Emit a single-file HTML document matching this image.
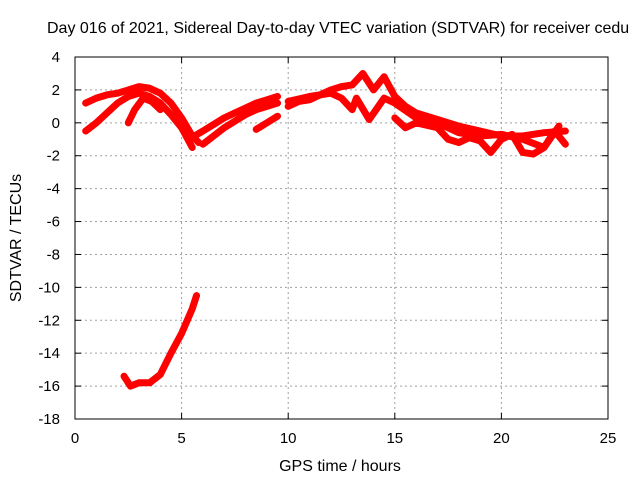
<!DOCTYPE html>
<html><head><meta charset="utf-8"><style>body{margin:0;background:#fff}svg{font-family:"Liberation Sans",sans-serif}</style></head>
<body>
<svg id="chart" width="640" height="480" xmlns="http://www.w3.org/2000/svg">
<text x="47" y="33" font-size="16">Day 016 of 2021, Sidereal Day-to-day VTEC variation (SDTVAR) for receiver cedu</text>
<g id="grid"></g>
<g id="axes"></g>
<g id="series"></g>
<text x="340" y="471" font-size="16" text-anchor="middle">GPS time / hours</text>
<text transform="translate(21,238) rotate(-90)" font-size="16" text-anchor="middle">SDTVAR / TECUs</text>
</svg>
<script>
const xTicks=[0,5,10,15,20,25];
const yTicks=[4,2,0,-2,-4,-6,-8,-10,-12,-14,-16,-18];
const trackA=[[0.5,1.2],[1,1.5],[1.5,1.7],[2,1.8],[2.5,2.0],[3,2.2],[3.5,2.1],[4,1.8],[4.5,1.2],[5,0.3],[5.5,-0.8],[5.8,-1.2]];
const trackB=[[0.5,-0.5],[1,0],[1.5,0.6],[2,1.2],[2.5,1.6],[3,1.8],[3.5,1.6],[4,1.2],[4.5,0.5],[5,-0.3],[5.5,-1.5]];
const trackC=[[2.5,0],[2.8,0.8],[3.2,1.5],[3.6,1.3],[4,0.8]];
const trackD=[[5.6,-0.8],[6,-0.5],[6.5,-0.1],[7,0.3],[7.5,0.6],[8,0.9],[8.5,1.2],[9,1.4],[9.5,1.6]];
const trackE=[[6,-1.3],[6.5,-0.8],[7,-0.3],[7.5,0.1],[8,0.5],[8.5,0.8],[9,1.0],[9.5,1.2]];
const trackF=[[8.5,-0.4],[9,0],[9.5,0.4]];
const trackG=[[10,1.0],[10.5,1.3],[11,1.4],[11.5,1.7],[12,2.0],[12.5,2.2],[13,2.3],[13.5,3.0],[14,2.0],[14.5,2.8],[15,1.6],[15.5,1.0],[16,0.6],[17,0.2],[18,-0.2],[19,-0.5],[20,-0.8],[21,-0.8],[22,-0.6],[23,-0.5]];
const trackH=[[10,1.3],[11,1.6],[12,1.8],[12.5,1.5],[13,0.8],[13.2,1.5],[13.8,0.2],[14.5,1.5],[15,1.2],[16,0.3],[17,0],[18,-0.6],[19,-0.8],[20,-0.7],[21,-1.0],[22,-1.5],[22.7,-0.2]];
const trackI=[[15,0.3],[15.5,-0.3],[16,0],[17,-0.3],[17.5,-1.0],[18,-1.2],[18.5,-0.9],[19,-1.1],[19.5,-1.8],[20,-1.0],[20.5,-0.7],[21,-1.8],[21.5,-1.9],[22,-1.5],[22.5,-0.5],[23,-1.3]];
const trackJ=[[2.3,-15.4],[2.6,-16.0],[3,-15.8],[3.5,-15.8],[4,-15.3],[4.5,-14.0],[5,-12.8],[5.5,-11.3],[5.7,-10.5]];
const tracks=[trackA,trackB,trackC,trackD,trackE,trackF,trackG,trackH,trackI,trackJ];
const L=75,R=608,T=57,B=419,X0=0,X1=25,Y0=-18,Y1=4;
const sx=v=>L+(v-X0)/(X1-X0)*(R-L), sy=v=>B-(v-Y0)/(Y1-Y0)*(B-T);
const NS="http://www.w3.org/2000/svg";
const mk=(t,a,p)=>{const e=document.createElementNS(NS,t);for(const k in a)e.setAttribute(k,a[k]);p.appendChild(e);return e;};
const grid=document.getElementById('grid'),axes=document.getElementById('axes'),ser=document.getElementById('series');
xTicks.forEach(v=>{const x=sx(v);
 if(v>X0&&v<X1){const g=mk('line',{x1:x,x2:x,y1:T,y2:B,stroke:'#a0a0a0','stroke-dasharray':'2,3'},grid);}
 mk('line',{x1:x,x2:x,y1:B,y2:B-6,stroke:'#000'},axes);mk('line',{x1:x,x2:x,y1:T,y2:T+6,stroke:'#000'},axes);
 const t=mk('text',{x:x,y:B+24,'font-size':15,'text-anchor':'middle'},axes);t.textContent=v;
 });
yTicks.forEach(v=>{const y=sy(v);
 if(v>Y0&&v<Y1){const g=mk('line',{x1:L,x2:R,y1:y,y2:y,stroke:'#a0a0a0','stroke-dasharray':'2,3'},grid);}
 mk('line',{x1:L,x2:L+6,y1:y,y2:y,stroke:'#000'},axes);mk('line',{x1:R,x2:R-6,y1:y,y2:y,stroke:'#000'},axes);
 const t=mk('text',{x:L-15,y:y+5,'font-size':15,'text-anchor':'end'},axes);t.textContent=v;
 });
const fr=mk('rect',{x:L,y:T,width:R-L,height:B-T,fill:'none',stroke:'#000'},axes);

tracks.forEach(tr=>{const p=mk('polyline',{points:tr.map(d=>sx(d[0])+','+sy(d[1])).join(' '),fill:'none',stroke:'#ff0000','stroke-width':7,'stroke-linejoin':'round','stroke-linecap':'round'},ser);
 });
</script>
</body></html>
